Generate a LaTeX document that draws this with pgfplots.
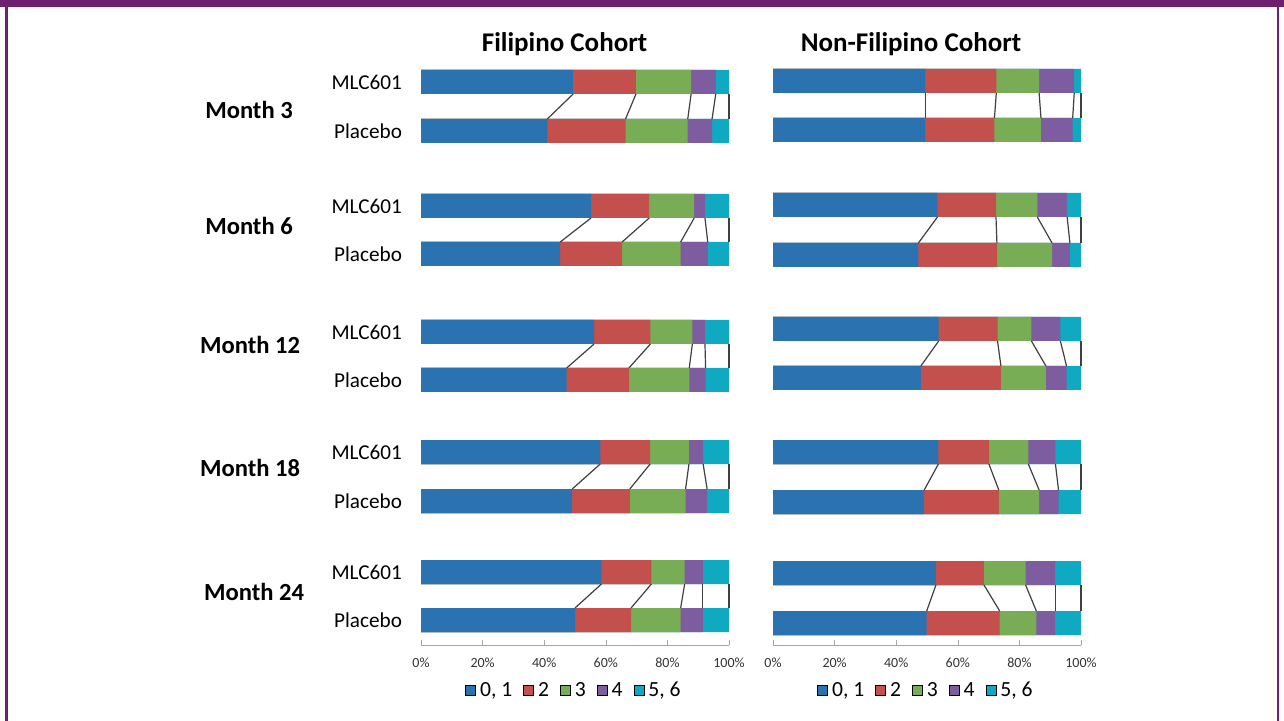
\documentclass[border=0pt]{standalone}
\usepackage{fontspec}
\setmainfont{Carlito}
\usepackage{pgfplots}
\usepackage{pgfplotstable}
\pgfplotsset{compat=1.18}

\definecolor{framec}{HTML}{6E2070}
\definecolor{cA}{HTML}{2B72B0}
\definecolor{cB}{HTML}{C4504E}
\definecolor{cC}{HTML}{78AD56}
\definecolor{cD}{HTML}{7D5CA0}
\definecolor{cE}{HTML}{10A9C2}

% cumulative shares (%) per month; ym/yp = bar centre (px from top)
% m = MLC601, p = Placebo
\pgfplotstableread{
ym  yp  m1   m2   m3   m4   p1   p2   p3   p4
82  131 49.4 69.8 87.7 95.7 41.0 66.4 86.6 94.5
206 254 55.2 74.1 88.7 92.2 45.2 65.3 84.3 93.1
332 380 56.2 74.5 88.1 92.2 47.3 67.5 87.1 92.4
452 501 58.2 74.4 87.0 91.6 49.1 67.8 85.9 92.9
572 620 58.6 74.8 85.6 91.5 50.0 68.2 84.3 91.5
}\filipino

\pgfplotstableread{
ym  yp  m1   m2   m3   m4   p1   p2   p3   p4
81  130 49.5 72.5 86.4 97.8 49.5 71.9 87.0 97.3
205 255 53.4 72.4 85.8 95.5 47.2 72.7 90.6 96.4
329 378 53.8 72.9 83.9 93.3 48.0 74.0 88.6 95.3
452 502 53.7 70.1 82.9 91.7 49.1 73.3 86.4 92.7
573 623 52.9 68.5 82.0 91.6 49.9 73.6 85.5 91.6
}\nonfilipino

\newcommand\titlefont{\fontsize{13.5}{15}\selectfont\bfseries}
\newcommand\monthfont{\fontsize{12.3}{14}\selectfont\bfseries}
\newcommand\grpfont{\fontsize{10.6}{12}\selectfont}
\newcommand\legfont{\fontsize{10.8}{13}\selectfont}

\pgfplotsset{
  seg/.style={xbar, bar width=12pt, bar shift=0pt, draw=none, fill=#1, forget plot},
  link/.style={black!75, line width=0.6pt, no markers, forget plot},
  panel/.style={
    scale only axis, width=154pt, height=292.5pt,
    xmin=0, xmax=100, ymin=-645, ymax=-60,
    axis x line*=bottom, axis y line=none, ytick=\empty,
    x axis line style={black!35},
    xtick={0,20,40,60,80,100},
    xticklabels={0\%,20\%,40\%,60\%,80\%,100\%},
    xtick align=inside, major tick length=2.5pt, xtick style={black!35},
    xticklabel style={font=\fontsize{7}{8}\selectfont, text=black!80, yshift=-3pt},
    clip=false,
    legend columns=-1,
    legend style={draw=none, fill=none, at={(0.5,-0.078)}, anchor=center,
      font=\legfont,
      /tikz/every even column/.append style={column sep=3.5pt}},
    legend image code/.code={\fill[##1] (0pt,-2.5pt) rectangle (5pt,2.5pt);},
  }
}

\newcommand\cohortplots[1]{%
  \addplot[seg=cE] table[x expr=100, y expr=-\thisrow{ym}]{#1};
  \addplot[seg=cE] table[x expr=100, y expr=-\thisrow{yp}]{#1};
  \addplot[seg=cD] table[x=m4, y expr=-\thisrow{ym}]{#1};
  \addplot[seg=cD] table[x=p4, y expr=-\thisrow{yp}]{#1};
  \addplot[seg=cC] table[x=m3, y expr=-\thisrow{ym}]{#1};
  \addplot[seg=cC] table[x=p3, y expr=-\thisrow{yp}]{#1};
  \addplot[seg=cB] table[x=m2, y expr=-\thisrow{ym}]{#1};
  \addplot[seg=cB] table[x=p2, y expr=-\thisrow{yp}]{#1};
  \addplot[seg=cA] table[x=m1, y expr=-\thisrow{ym}]{#1};
  \addplot[seg=cA] table[x=p1, y expr=-\thisrow{yp}]{#1};
  % series lines between the two bars of each month
  \addplot[link, quiver={u=\thisrow{p1}-\thisrow{m1}, v=-(\thisrow{yp}-\thisrow{ym}-24)}]
    table[x=m1, y expr=-\thisrow{ym}-12]{#1};
  \addplot[link, quiver={u=\thisrow{p2}-\thisrow{m2}, v=-(\thisrow{yp}-\thisrow{ym}-24)}]
    table[x=m2, y expr=-\thisrow{ym}-12]{#1};
  \addplot[link, quiver={u=\thisrow{p3}-\thisrow{m3}, v=-(\thisrow{yp}-\thisrow{ym}-24)}]
    table[x=m3, y expr=-\thisrow{ym}-12]{#1};
  \addplot[link, quiver={u=\thisrow{p4}-\thisrow{m4}, v=-(\thisrow{yp}-\thisrow{ym}-24)}]
    table[x=m4, y expr=-\thisrow{ym}-12]{#1};
  \addplot[link, quiver={u=0, v=-(\thisrow{yp}-\thisrow{ym}-24)}]
    table[x expr=100, y expr=-\thisrow{ym}-12]{#1};
  \addlegendimage{fill=cA}\addlegendentry{0, 1}
  \addlegendimage{fill=cB}\addlegendentry{2}
  \addlegendimage{fill=cC}\addlegendentry{3}
  \addlegendimage{fill=cD}\addlegendentry{4}
  \addlegendimage{fill=cE}\addlegendentry{5, 6}
}

\begin{document}
\begin{tikzpicture}
\path[use as bounding box] (0pt,0pt) rectangle (642pt,-360.5pt);
\begin{scope}[x=0.5pt,y=-0.5pt]
  \fill[white] (0,0) rectangle (1284,721);
  \fill[framec] (0,0) rectangle (1284,7.3);
  \fill[framec] (5,0) rectangle (7.5,721);
  \fill[framec] (1276.5,0) rectangle (1279,721);
  \node[font=\titlefont] at (564.5,44) {Filipino Cohort};
  \node[font=\titlefont] at (911,44) {Non-Filipino Cohort};
  \node[font=\monthfont] at (249,110) {Month 3};
  \node[font=\monthfont] at (249,226) {Month 6};
  \node[font=\monthfont] at (250,345) {Month 12};
  \node[font=\monthfont] at (250,468) {Month 18};
  \node[font=\monthfont] at (254,592) {Month 24};
  \foreach \m/\p in {82/131,206/254,332/380,452/501,572/620}{
    \node[anchor=east, font=\grpfont] at (409,\m) {MLC601};
    \node[anchor=east, font=\grpfont] at (409,\p) {Placebo};
  }
\end{scope}

\begin{axis}[panel, at={(210.5pt,-322.5pt)}, anchor=south west]
  \cohortplots{\filipino}
\end{axis}

\begin{axis}[panel, at={(386.5pt,-322.5pt)}, anchor=south west]
  \cohortplots{\nonfilipino}
\end{axis}
\end{tikzpicture}
\end{document}
